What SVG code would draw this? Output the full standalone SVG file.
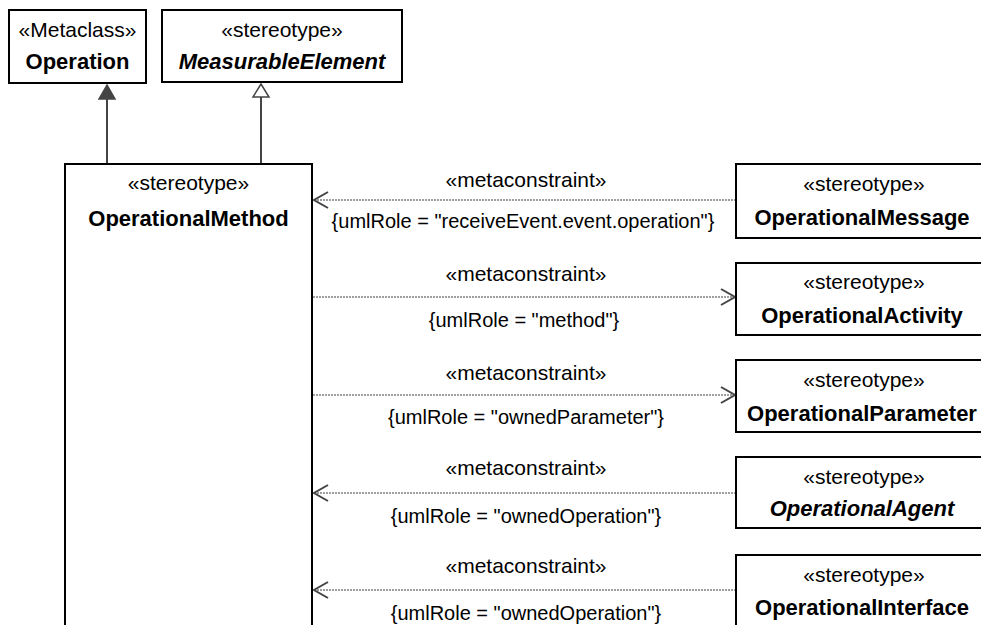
<svg xmlns="http://www.w3.org/2000/svg" width="981" height="625" viewBox="0 0 981 625">
<defs>
<style>
.box{fill:#fff;stroke:#000;stroke-width:2}
.t{font-family:"Liberation Sans",Arial,sans-serif;font-size:21px;fill:#000;text-anchor:middle}
.b{font-weight:bold;font-size:22px}
.bi{font-weight:bold;font-style:italic;font-size:22px}
.lbl{font-family:"Liberation Sans",Arial,sans-serif;font-size:20px;fill:#000;text-anchor:middle}
.dep{stroke:#808080;stroke-width:1.3;stroke-dasharray:2 1;fill:none}
.gen{stroke:#444;stroke-width:2;fill:none}
.head{stroke:#444;stroke-width:2;fill:none}
</style>
</defs>
<g id="connectors">
<line class="gen" x1="107" y1="98" x2="107" y2="164"/>
<polygon points="107,85 99,99 115,99" fill="#444" stroke="#444" stroke-width="1.5"/>
<line class="gen" x1="261" y1="97" x2="261" y2="164"/>
<polygon points="261,84 253,97 269,97" fill="#fff" stroke="#444" stroke-width="1.5"/>

<line class="dep" x1="314" y1="200" x2="736" y2="200"/>
<polyline class="head" points="328,192 314,200 328,208"/>
<text class="t" x="526" y="187">«metaconstraint»</text>
<text class="lbl" x="523" y="228">{umlRole = "receiveEvent.event.operation"}</text>

<line class="dep" x1="313" y1="297" x2="735" y2="297"/>
<polyline class="head" points="721,289 735,297 721,305"/>
<text class="t" x="526" y="281">«metaconstraint»</text>
<text class="lbl" x="524" y="327">{umlRole = "method"}</text>

<line class="dep" x1="313" y1="395" x2="735" y2="395"/>
<polyline class="head" points="721,387 735,395 721,403"/>
<text class="t" x="526" y="380">«metaconstraint»</text>
<text class="lbl" x="526" y="424">{umlRole = "ownedParameter"}</text>

<line class="dep" x1="314" y1="493" x2="736" y2="493"/>
<polyline class="head" points="328,485 314,493 328,501"/>
<text class="t" x="526" y="475">«metaconstraint»</text>
<text class="lbl" x="526" y="523">{umlRole = "ownedOperation"}</text>

<line class="dep" x1="314" y1="590" x2="736" y2="590"/>
<polyline class="head" points="328,582 314,590 328,598"/>
<text class="t" x="526" y="573">«metaconstraint»</text>
<text class="lbl" x="526" y="620">{umlRole = "ownedOperation"}</text>
</g>

<g id="Operation">
<rect class="box" x="9" y="10" width="137" height="73"/>
<text class="t" x="77.5" y="37">«Metaclass»</text>
<text class="t b" x="77.5" y="69">Operation</text>
</g>
<g id="MeasurableElement">
<rect class="box" x="162" y="10" width="240" height="72"/>
<text class="t" x="282" y="37">«stereotype»</text>
<text class="t bi" x="282" y="69">MeasurableElement</text>
</g>
<g id="OperationalMethod">
<rect class="box" x="65" y="164" width="247" height="470"/>
<text class="t" x="188.5" y="190">«stereotype»</text>
<text class="t b" x="188.5" y="226">OperationalMethod</text>
</g>
<g id="OperationalMessage">
<rect class="box" x="736" y="164" width="260" height="74"/>
<text class="t" x="864" y="191">«stereotype»</text>
<text class="t b" x="862" y="225">OperationalMessage</text>
</g>
<g id="OperationalActivity">
<rect class="box" x="736" y="263" width="260" height="72"/>
<text class="t" x="864" y="289">«stereotype»</text>
<text class="t b" x="862" y="323">OperationalActivity</text>
</g>
<g id="OperationalParameter">
<rect class="box" x="736" y="360" width="260" height="72"/>
<text class="t" x="864" y="387">«stereotype»</text>
<text class="t b" x="862" y="421">OperationalParameter</text>
</g>
<g id="OperationalAgent">
<rect class="box" x="736" y="457" width="260" height="71"/>
<text class="t" x="864" y="484">«stereotype»</text>
<text class="t bi" x="862" y="516">OperationalAgent</text>
</g>
<g id="OperationalInterface">
<rect class="box" x="736" y="555" width="260" height="80"/>
<text class="t" x="864" y="582">«stereotype»</text>
<text class="t b" x="862" y="615">OperationalInterface</text>
</g>
</svg>
